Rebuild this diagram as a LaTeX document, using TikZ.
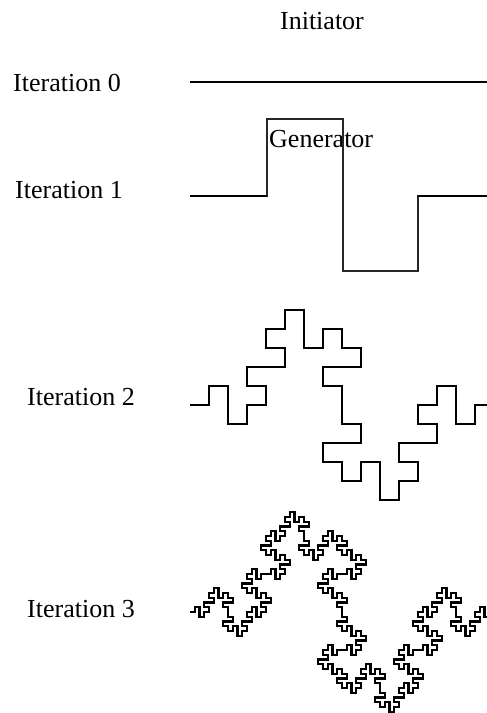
\documentclass[tikz,border=0pt]{standalone}
\usepackage{fontspec}
\setmainfont{Liberation Serif}
\usetikzlibrary{lindenmayersystems}

\pgfdeclarelindenmayersystem{Minkowski}{
  \rule{F -> F+F-F-FF+F+F-F}
}

\begin{document}
\begin{tikzpicture}[
x=1pt,y=-1pt,
every node/.style={inner sep=0pt,font=\fontsize{26}{30}\selectfont},
thickline/.style={line width=2.8pt},
thinline/.style={line width=1.4pt,black!85},
curve/.style={line width=1.8pt,line join=miter}
]
\useasboundingbox (0,0) rectangle (487,713);
\clip (0,0) rectangle (487,713);

\node[anchor=base] (init) at (322,29) {Initiator};
\node[anchor=base west] (it0) at (13,91) {Iteration 0};
\node[anchor=base west] (it1) at (15,198) {Iteration 1};
\node[anchor=base west] (gen) at (269,147) {Generator};
\node[anchor=base west] (it2) at (27,405) {Iteration 2};
\node[anchor=base west] (it3) at (27,617) {Iteration 3};

% initiator
\draw[thickline] (190,82) -- (494,82);

% generator
\draw[thinline] (190,196) -| (267,119) -| (343,271) -| (418,196) -- (494,196);
\draw[thickline] (190,196) -- (267,196);
\draw[thickline] (418,196) -- (494,196);

% iterations 2 and 3
\draw[curve,shift={(190,405)},
  lindenmayer system={Minkowski, axiom=F, order=2, step=19pt, angle=90}]
  lindenmayer system;
\draw[curve,line width=2.1pt,shift={(190,612)},
  lindenmayer system={Minkowski, axiom=F, order=3, step=4.75pt, angle=90}]
  lindenmayer system;
\end{tikzpicture}
\end{document}
